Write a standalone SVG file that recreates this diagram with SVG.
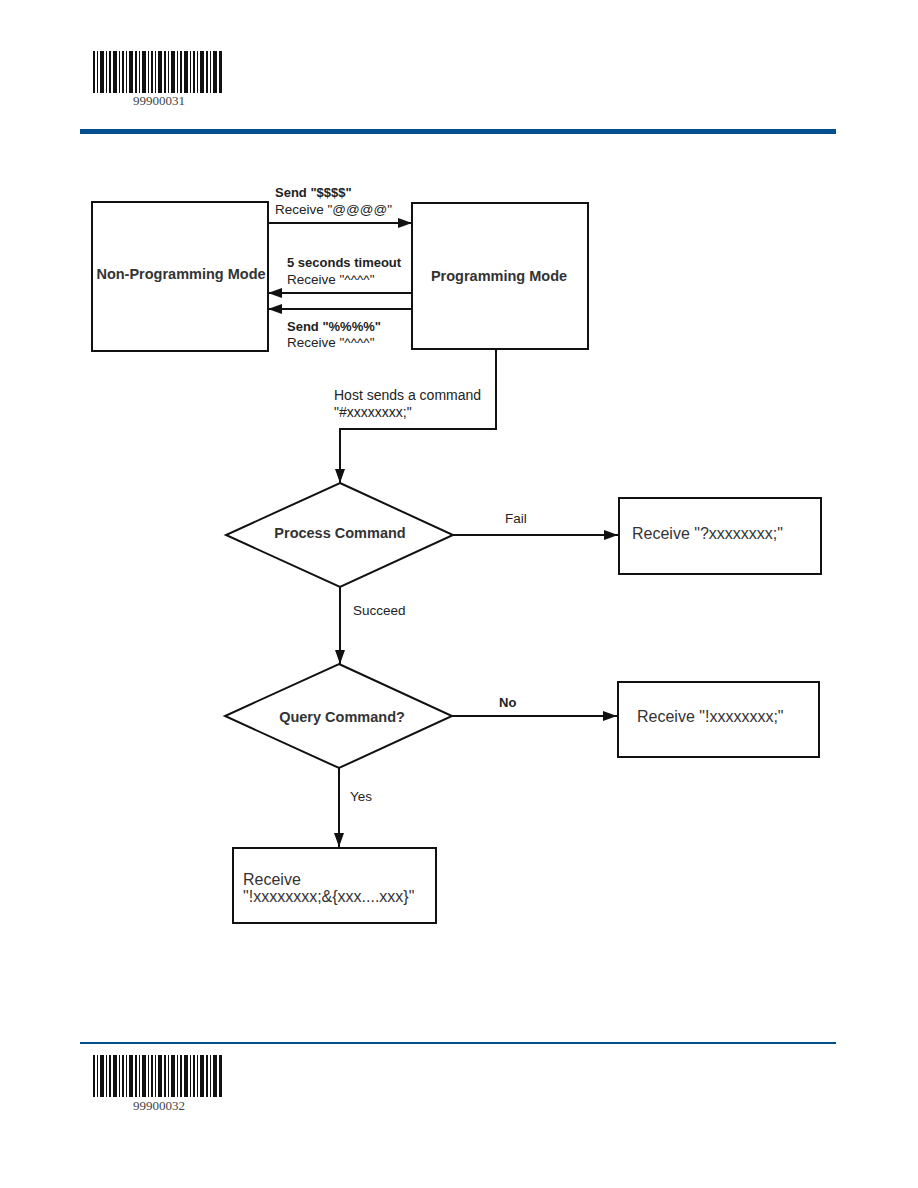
<svg xmlns="http://www.w3.org/2000/svg" width="918" height="1188" viewBox="0 0 918 1188">
<defs>
<style>
.box{fill:#fff;stroke:#111;stroke-width:2}
.ln{fill:none;stroke:#111;stroke-width:2}
.nl{font-family:"Liberation Sans",Arial,sans-serif;font-size:14.5px;font-weight:bold;fill:#333}
.el{font-family:"Liberation Sans",Arial,sans-serif;font-size:13.5px;fill:#222}
.eb{font-family:"Liberation Sans",Arial,sans-serif;font-size:13px;font-weight:bold;fill:#222}
.rt{font-family:"Liberation Sans",Arial,sans-serif;font-size:16px;fill:#333}
.bc{font-family:"Liberation Serif","Times New Roman",serif;font-size:13px;fill:#444}
.bar{fill:#111}
</style>
<marker id="ah" viewBox="0 0 14 10" refX="14" refY="5" markerWidth="14" markerHeight="10" markerUnits="userSpaceOnUse" orient="auto">
<path d="M0,0 L14,5 L0,10 Z" fill="#111"/>
</marker>
<g id="bars">
<rect class="bar" x="93" y="0" width="2" height="42"/><rect class="bar" x="97" y="0" width="1" height="42"/><rect class="bar" x="100" y="0" width="4" height="42"/><rect class="bar" x="106" y="0" width="1" height="42"/><rect class="bar" x="109" y="0" width="2" height="42"/><rect class="bar" x="113" y="0" width="4" height="42"/><rect class="bar" x="119" y="0" width="1" height="42"/><rect class="bar" x="122" y="0" width="2" height="42"/><rect class="bar" x="126" y="0" width="1" height="42"/><rect class="bar" x="129" y="0" width="4" height="42"/><rect class="bar" x="135" y="0" width="2" height="42"/><rect class="bar" x="139" y="0" width="1" height="42"/><rect class="bar" x="142" y="0" width="4" height="42"/><rect class="bar" x="148" y="0" width="1" height="42"/><rect class="bar" x="151" y="0" width="2" height="42"/><rect class="bar" x="155" y="0" width="1" height="42"/><rect class="bar" x="158" y="0" width="4" height="42"/><rect class="bar" x="164" y="0" width="2" height="42"/><rect class="bar" x="168" y="0" width="1" height="42"/><rect class="bar" x="171" y="0" width="4" height="42"/><rect class="bar" x="177" y="0" width="1" height="42"/><rect class="bar" x="180" y="0" width="2" height="42"/><rect class="bar" x="184" y="0" width="4" height="42"/><rect class="bar" x="190" y="0" width="1" height="42"/><rect class="bar" x="193" y="0" width="2" height="42"/><rect class="bar" x="197" y="0" width="1" height="42"/><rect class="bar" x="200" y="0" width="4" height="42"/><rect class="bar" x="206" y="0" width="2" height="42"/><rect class="bar" x="210" y="0" width="1" height="42"/><rect class="bar" x="213" y="0" width="4" height="42"/><rect class="bar" x="219" y="0" width="3" height="42"/>
</g>
</defs>
<rect width="918" height="1188" fill="#fff"/>

<g id="header">
<use href="#bars" x="0" y="51"/>
<text class="bc" x="159" y="105" text-anchor="middle">99900031</text>
<rect x="80" y="129" width="756" height="5" fill="#00508f"/>
</g>

<g id="footer">
<rect x="80" y="1042" width="756" height="2" fill="#00508f"/>
<use href="#bars" x="0" y="1055"/>
<text class="bc" x="159" y="1110" text-anchor="middle">99900032</text>
</g>

<g id="connectors">
<line class="ln" x1="268" y1="223" x2="412" y2="223" marker-end="url(#ah)"/>
<line class="ln" x1="412" y1="293" x2="268" y2="293" marker-end="url(#ah)"/>
<line class="ln" x1="412" y1="309" x2="268" y2="309" marker-end="url(#ah)"/>
<polyline class="ln" points="496,349 496,429 340,429 340,483" marker-end="url(#ah)"/>
<line class="ln" x1="453" y1="535" x2="618" y2="535" marker-end="url(#ah)"/>
<line class="ln" x1="340" y1="587" x2="340" y2="664" marker-end="url(#ah)"/>
<line class="ln" x1="452" y1="716" x2="617" y2="716" marker-end="url(#ah)"/>
<line class="ln" x1="339" y1="768" x2="339" y2="847" marker-end="url(#ah)"/>
<text class="eb" x="275" y="197">Send "$$$$"</text>
<text class="el" x="275" y="214">Receive "@@@@"</text>
<text class="eb" x="287" y="267">5 seconds timeout</text>
<text class="el" x="287" y="284">Receive "^^^^"</text>
<text class="eb" x="287" y="331">Send "%%%%"</text>
<text class="el" x="287" y="347">Receive "^^^^"</text>
<text class="el" x="334" y="400" style="font-size:14px">Host sends a command</text>
<text class="el" x="334" y="417" style="font-size:14px">"#xxxxxxxx;"</text>
<text class="el" x="505" y="523">Fail</text>
<text class="el" x="353" y="615">Succeed</text>
<text class="eb" x="499" y="707">No</text>
<text class="el" x="350" y="801">Yes</text>
</g>

<g id="non-programming-mode">
<rect class="box" x="92" y="202" width="176" height="149"/>
<text class="nl" x="181" y="279" text-anchor="middle">Non-Programming Mode</text>
</g>

<g id="programming-mode">
<rect class="box" x="412" y="203" width="176" height="146"/>
<text class="nl" x="499" y="281" text-anchor="middle">Programming Mode</text>
</g>

<g id="process-command">
<polygon class="box" points="340,483 453,535 340,587 226,535"/>
<text class="nl" x="340" y="538" text-anchor="middle">Process Command</text>
</g>

<g id="receive-fail">
<rect class="box" x="619" y="498" width="202" height="76"/>
<text class="rt" x="632" y="539">Receive "?xxxxxxxx;"</text>
</g>

<g id="query-command">
<polygon class="box" points="339,664 452,716 339,768 225,716"/>
<text class="nl" x="342" y="722" text-anchor="middle">Query Command?</text>
</g>

<g id="receive-no">
<rect class="box" x="618" y="682" width="201" height="75"/>
<text class="rt" x="637" y="722">Receive "!xxxxxxxx;"</text>
</g>

<g id="receive-yes">
<rect class="box" x="233" y="848" width="203" height="75"/>
<text class="rt" x="243" y="885">Receive</text>
<text class="rt" x="243" y="902">"!xxxxxxxx;&amp;{xxx....xxx}"</text>
</g>
</svg>
